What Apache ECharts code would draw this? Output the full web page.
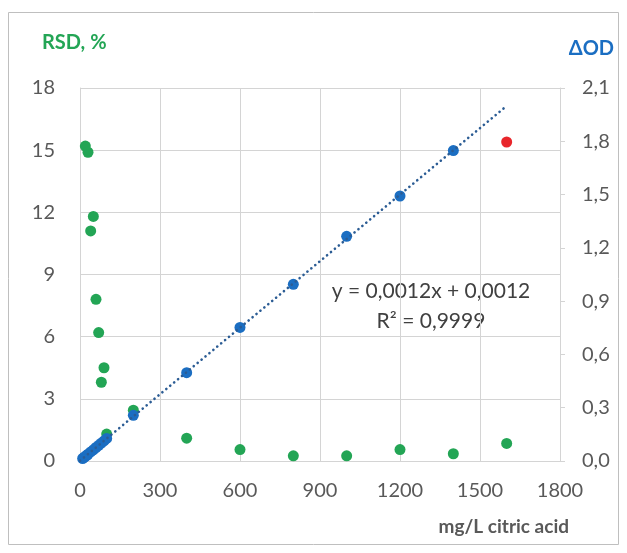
<!DOCTYPE html>
<html>
<head>
<meta charset="utf-8">
<script src="https://cdn.jsdelivr.net/npm/echarts@6/dist/echarts.min.js"></script>
<style>
  html, body { margin: 0; padding: 0; background: #ffffff; }
  #chart { width: 627px; height: 553px; }
</style>
</head>
<body>
<div id="chart"></div>
<script>
// Citric acid concentration (mg/L) for the calibration standards
const odConc = [10, 15, 20, 25, 30, 40, 50, 60, 70, 80, 90, 100, 200, 400, 600, 800, 1000, 1200, 1400];
// Absorbance change (ΔOD) for each standard
const odValues = [0.014, 0.020, 0.026, 0.032, 0.038, 0.051, 0.063, 0.076, 0.088, 0.101, 0.113, 0.127,
                  0.257, 0.497, 0.752, 0.995, 1.265, 1.492, 1.748];

// Out-of-range standard (not used in the fit)
const outlierConc = [1600];
const outlierValues = [1.796];

// Relative standard deviation (%) of replicate measurements
const rsdConc = [20, 30, 40, 50, 60, 70, 80, 90, 100, 200, 400, 600, 800, 1000, 1200, 1400, 1600];
const rsdValues = [15.2, 14.9, 11.1, 11.8, 7.8, 6.2, 3.8, 4.5, 1.3, 2.45, 1.1, 0.55, 0.25, 0.25, 0.55, 0.35, 0.85];

// Axis tick labels
const xTicks = ['0', '300', '600', '900', '1200', '1500', '1800'];
const leftTicks = ['0', '3', '6', '9', '12', '15', '18'];
const rightTicks = ['0,0', '0,3', '0,6', '0,9', '1,2', '1,5', '1,8', '2,1'];

// Trendline equation text
const eqLines = ['y = 0,0012x + 0,0012', 'R\u00b2 = 0,9999'];

// Least-squares fit of ΔOD against concentration
function linearFit(xs, ys) {
  const n = xs.length;
  let sx = 0, sy = 0, sxx = 0, sxy = 0;
  for (let i = 0; i < n; i++) {
    sx += xs[i]; sy += ys[i]; sxx += xs[i] * xs[i]; sxy += xs[i] * ys[i];
  }
  const slope = (n * sxy - sx * sy) / (n * sxx - sx * sx);
  const intercept = (sy - slope * sx) / n;
  return { slope, intercept };
}
const fit = linearFit(odConc, odValues);
const fitEnd = Math.max(...outlierConc);
const trendData = [
  [0, fit.intercept],
  [fitEnd, fit.slope * fitEnd + fit.intercept]
];

const zip = (xs, ys) => xs.map((x, i) => [x, ys[i]]);

const FONT = 'Lato, "Open Sans", sans-serif';
const GREEN = '#23A555';
const BLUE = '#1B6EC2';
const RED = '#E8262B';
const GRID = '#D4D4D4';
const TEXT = '#595959';

const chart = echarts.init(document.getElementById('chart'));
chart.setOption({
  animation: false,
  backgroundColor: '#ffffff',
  grid: { left: 80, right: 67, top: 88, bottom: 92 },
  xAxis: {
    type: 'value', min: 0, max: 1800, interval: 300,
    axisLine: { show: true, lineStyle: { color: GRID } },
    axisTick: { show: false },
    splitLine: { show: true, lineStyle: { color: GRID, width: 1 } },
    axisLabel: {
      color: TEXT, fontFamily: FONT, fontSize: 20, margin: 20,
      formatter: (v) => xTicks[Math.round(v / 300)]
    }
  },
  yAxis: [
    {
      type: 'value', min: 0, max: 18, interval: 3, position: 'left',
      axisLine: { show: true, lineStyle: { color: GRID } },
      axisTick: { show: false },
      splitLine: { show: true, lineStyle: { color: GRID, width: 1 } },
      axisLabel: {
        color: TEXT, fontFamily: FONT, fontSize: 20, margin: 25,
        formatter: (v) => leftTicks[Math.round(v / 3)]
      }
    },
    {
      type: 'value', min: 0, max: 2.1, interval: 0.3, position: 'right',
      axisLine: { show: true, lineStyle: { color: GRID } },
      axisTick: { show: true, length: 5, lineStyle: { color: GRID } },
      splitLine: { show: false },
      axisLabel: {
        color: TEXT, fontFamily: FONT, fontSize: 20, margin: 22,
        formatter: (v) => rightTicks[Math.round(v / 0.3)]
      }
    }
  ],
  series: [
    {
      name: 'RSD', type: 'scatter', yAxisIndex: 0,
      symbolSize: 11, itemStyle: { color: GREEN, opacity: 1 },
      data: zip(rsdConc, rsdValues), z: 2
    },
    {
      name: 'ΔOD', type: 'scatter', yAxisIndex: 1,
      symbolSize: 11, itemStyle: { color: BLUE, opacity: 1 },
      data: zip(odConc, odValues), z: 3
    },
    {
      name: 'ΔOD excluded', type: 'scatter', yAxisIndex: 1,
      symbolSize: 11, itemStyle: { color: RED, opacity: 1 },
      data: zip(outlierConc, outlierValues), z: 3
    },
    {
      name: 'Linear fit', type: 'line', yAxisIndex: 1,
      showSymbol: false, symbol: 'none', silent: true,
      lineStyle: { color: '#2B5C94', width: 2.6, type: [0.1, 5], cap: 'round' },
      data: trendData, z: 4
    }
  ],
  graphic: [
    {
      type: 'rect', silent: true, z: -1,
      shape: { x: 8.5, y: 12.5, width: 610, height: 532 },
      style: { fill: 'none', stroke: '#BFBFBF', lineWidth: 1 }
    },
    {
      type: 'text', left: 42, top: 33,
      style: { text: 'RSD, %', fill: GREEN, font: 'bold 20px ' + FONT }
    },
    {
      type: 'text', right: 13, top: 39,
      style: { text: 'ΔOD', fill: BLUE, font: 'bold 20px ' + FONT }
    },
    {
      type: 'text', right: 58, top: 517,
      style: { text: 'mg/L citric acid', fill: TEXT, font: 'bold 19px ' + FONT }
    },
    {
      type: 'text', x: 431, y: 291,
      style: { text: eqLines[0], fill: '#404040', font: '21px ' + FONT,
               align: 'center', verticalAlign: 'middle' }
    },
    {
      type: 'text', x: 431, y: 321,
      style: { text: eqLines[1], fill: '#404040', font: '21px ' + FONT,
               align: 'center', verticalAlign: 'middle' }
    }
  ]
});
</script>
</body>
</html>
